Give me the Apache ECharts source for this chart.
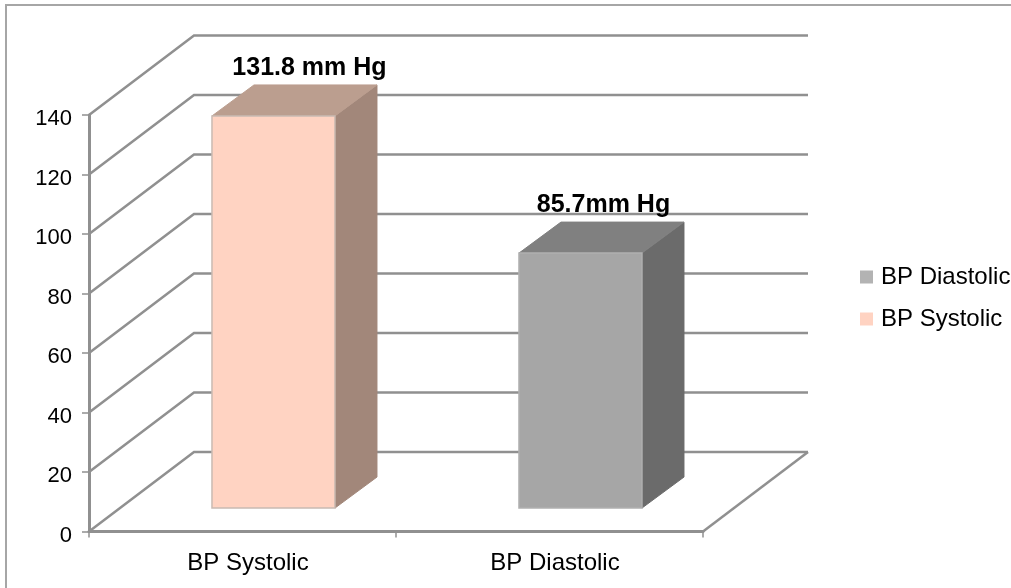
<!DOCTYPE html>
<html><head><meta charset="utf-8">
<style>html,body{margin:0;padding:0;background:#fff}#c{width:1011px;height:588px}</style>
<script src="https://cdn.jsdelivr.net/npm/echarts@6/dist/echarts.min.js"></script>
</head><body><div id="c"></div>
<script>
const categories = ['BP Systolic', 'BP Diastolic'];
const systolic = [131.8, null];
const diastolic = [null, 85.7];
const yTicks = [0, 20, 40, 60, 80, 100, 120, 140];
const systolicLabel = '131.8 mm Hg';
const diastolicLabel = '85.7mm Hg';

const FONT = '"Liberation Sans", Arial, sans-serif';
const LINE = '#909090';
const WALL_DX = 105, WALL_DY = -79.5;    // full depth of the 3D box
const BAR_OFF = 0.295;                   // depth where the bar's front face sits
const BAR_DEPTH_DX = 42, BAR_DEPTH_DY = -31;
const BAR_W = 123;

function wallItem(params, api) {
  const p = api.coord([0, api.value(0)]);
  const e = api.coord([1, api.value(0)]);
  const halfBand = api.size([1, 0])[0] / 2;
  const x0 = p[0] - halfBand, x1 = e[0] + halfBand, y = p[1];
  return {
    type: 'polyline', silent: true,
    shape: { points: [[x0, y], [x0 + WALL_DX, y + WALL_DY], [x1 + WALL_DX, y + WALL_DY]] },
    style: { stroke: LINE, lineWidth: 2.5, fill: null }
  };
}
function floorItem(params, api) {
  const e = api.coord([1, 0]);
  const x1 = e[0] + api.size([1, 0])[0] / 2;
  return {
    type: 'line', silent: true,
    shape: { x1: x1, y1: e[1], x2: x1 + WALL_DX, y2: e[1] + WALL_DY },
    style: { stroke: LINE, lineWidth: 2.5 }
  };
}
function barRenderer(front, side, top, edge, label, labelDx) {
  return function (params, api) {
    const cat = api.value(0), val = api.value(1);
    const base = api.coord([cat, 0]), tip = api.coord([cat, val]);
    const sx = WALL_DX * BAR_OFF, sy = WALL_DY * BAR_OFF;
    const cx = base[0] + sx;
    const l = cx - BAR_W / 2, r = cx + BAR_W / 2;
    const b = base[1] + sy;
    const t = tip[1] + sy;
    const dx = BAR_DEPTH_DX, dy = BAR_DEPTH_DY;
    return {
      type: 'group',
      children: [
        { type: 'polygon', shape: { points: [[r, b], [r + dx, b + dy], [r + dx, t + dy], [r, t]] },
          style: { fill: side, stroke: side, lineWidth: 1 } },
        { type: 'polygon', shape: { points: [[l, t], [l + dx, t + dy], [r + dx, t + dy], [r, t]] },
          style: { fill: top, stroke: top, lineWidth: 1 } },
        { type: 'rect', shape: { x: l, y: t, width: BAR_W, height: b - t },
          style: { fill: front, stroke: edge, lineWidth: 1.5 } },
        { type: 'text', style: { text: label, x: cx + labelDx, y: t - 47.5, align: 'center', verticalAlign: 'middle',
            font: 'bold 25px ' + FONT, fill: '#000' } }
      ]
    };
  };
}

const chart = echarts.init(document.getElementById('c'), null, { renderer: 'canvas' });
chart.setOption({
  animation: false,
  backgroundColor: '#fff',
  graphic: [{ type: 'rect', silent: true, z: 0,
    shape: { x: 6, y: 5, width: 1100, height: 700 },
    style: { fill: 'none', stroke: '#a6a6a6', lineWidth: 2 } }],
  grid: { left: 89, right: 308, top: 115, bottom: 56.5, containLabel: false },
  legend: {
    orient: 'vertical', left: 860, top: 264, itemWidth: 13, itemHeight: 13, itemGap: 16,
    icon: 'rect', data: ['BP Diastolic', 'BP Systolic'],
    textStyle: { fontFamily: FONT, fontSize: 24, color: '#000', padding: [2, 0, 0, 3], lineHeight: 24 },
    padding: 0, selectedMode: false
  },
  xAxis: {
    type: 'category', data: categories, boundaryGap: true,
    axisLine: { show: true, lineStyle: { color: LINE, width: 3 } },
    axisTick: { show: true, alignWithLabel: false, length: 6, lineStyle: { color: LINE, width: 1.5 } },
    axisLabel: { fontFamily: FONT, fontSize: 24, color: '#000', margin: 20, padding: [0, 0, 0, 11] },
    splitLine: { show: false }
  },
  yAxis: {
    type: 'value', min: 0, max: 140, interval: 20,
    axisLine: { show: true, lineStyle: { color: LINE, width: 3 } },
    axisTick: { show: true, length: 7, lineStyle: { color: LINE, width: 1.5 } },
    axisLabel: { fontFamily: FONT, fontSize: 22, color: '#000', margin: 17, verticalAlign: 'top', lineHeight: 8 },
    splitLine: { show: false }
  },
  series: [
    { type: 'custom', name: 'walls', silent: true, z: 1, clip: false, renderItem: wallItem,
      data: yTicks.map(v => [v]), encode: { y: 0 } },
    { type: 'custom', name: 'floor', silent: true, z: 1, clip: false, renderItem: floorItem, data: [[0]] },
    { type: 'custom', name: 'BP Systolic', z: 3, clip: false,
      itemStyle: { color: '#FFD3C2' },
      renderItem: barRenderer('#FFD3C2', '#A2877A', '#BB9E8F', '#C9BAB2', systolicLabel, 36),
      data: systolic.map((v, i) => [i, v]).filter(d => d[1] != null), encode: { x: 0, y: 1 } },
    { type: 'custom', name: 'BP Diastolic', z: 3, clip: false,
      itemStyle: { color: '#B3B3B3' },
      renderItem: barRenderer('#A6A6A6', '#6B6B6B', '#808080', '#B0B0B0', diastolicLabel, 23),
      data: diastolic.map((v, i) => [i, v]).filter(d => d[1] != null), encode: { x: 0, y: 1 } }
  ]
});
</script></body></html>
